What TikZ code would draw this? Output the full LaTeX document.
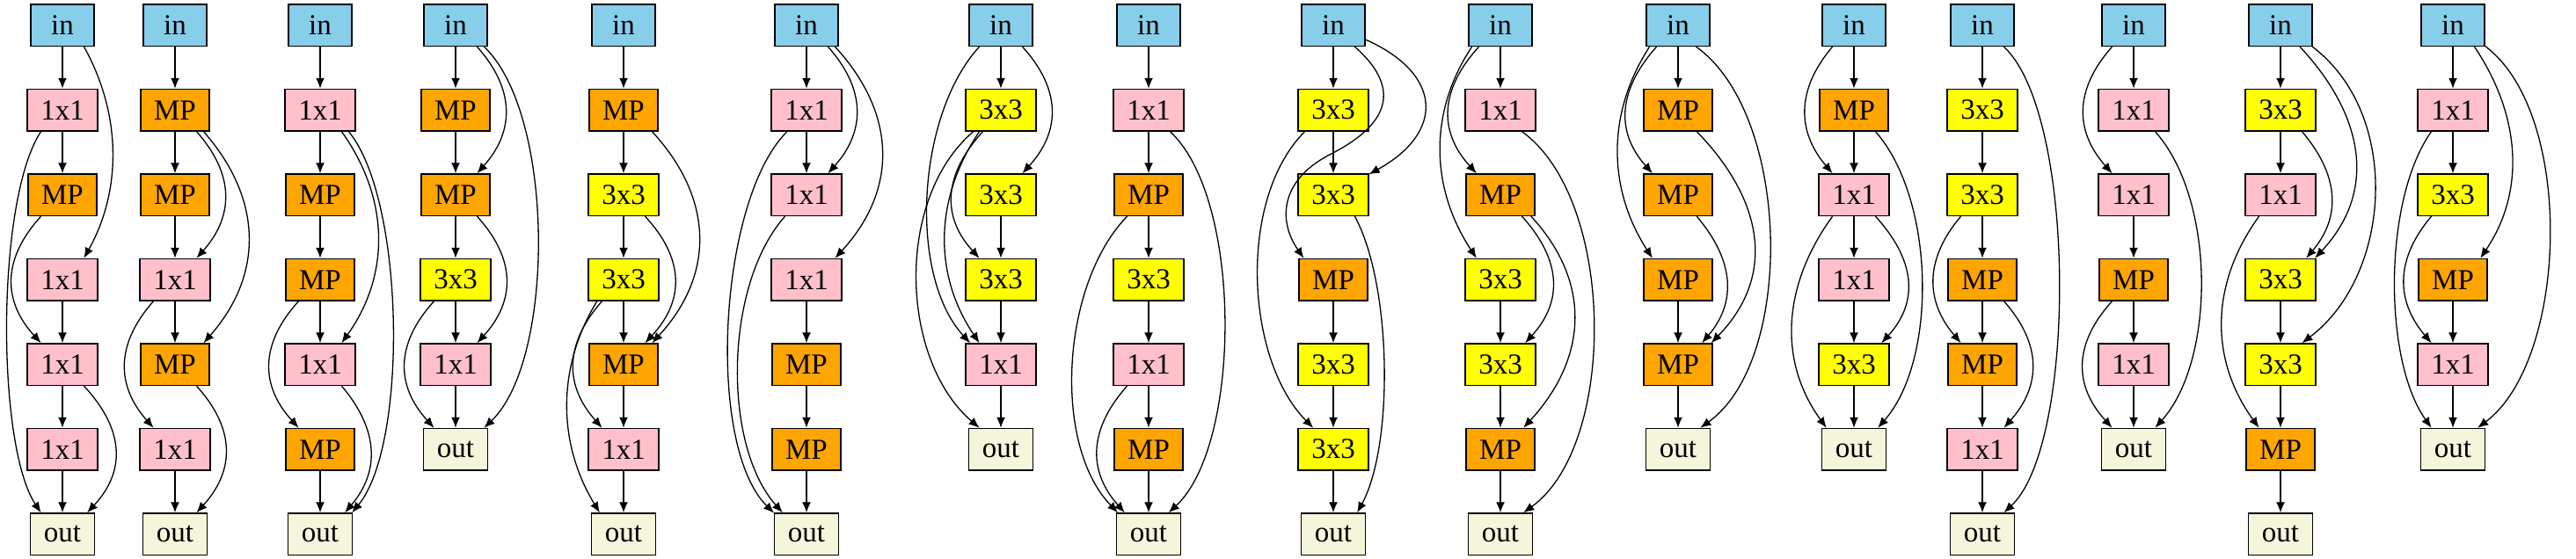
\documentclass[tikz,border=0pt]{standalone}
\usepackage{fontspec}
\setmainfont{Liberation Serif}
\usetikzlibrary{arrows.meta}
\definecolor{colIn}{HTML}{87CEEB}
\definecolor{colOne}{HTML}{FFC0CB}
\definecolor{colPool}{HTML}{FFA500}
\definecolor{colThree}{HTML}{FFFF00}
\definecolor{colOut}{HTML}{F5F5DC}
\tikzset{
  opbox/.style={draw,line width=0.65pt,minimum width=36pt,minimum height=23.8pt,inner xsep=7.6pt,inner ysep=0pt,font=\fontsize{16.5}{19}\selectfont},
  inbox/.style={opbox,fill=colIn},
  onebox/.style={opbox,fill=colOne},
  poolbox/.style={opbox,fill=colPool},
  threebox/.style={opbox,fill=colThree},
  outbox/.style={opbox,fill=colOut},
  link/.style={line width=0.65pt,-{Latex[length=6pt,width=5pt]}}
}
\begin{document}
\begin{tikzpicture}[x=0.5pt,y=-48.25pt]
\useasboundingbox (0,-0.2974) rectangle (2929,6.283);

\node (a0) at (71,0) [inbox] {in}; \node (a1) at (71,1) [onebox] {1x1}; \node (a2) at (71,2) [poolbox] {MP}; \node (a3) at (71,3) [onebox] {1x1}; \node (a4) at (71,4) [onebox] {1x1}; \node (a5) at (71,5) [onebox] {1x1}; \node (a6) at (71,6) [outbox] {out};
\draw[link] (a0) -- (a1); \draw[link] (a1) -- (a2); \draw[link] (a3) -- (a4); \draw[link] (a4) -- (a5); \draw[link] (a5) -- (a6);
\draw[link] (a0.-45) .. controls +(43,0.8) and +(43,-0.8) .. (a3.45); \draw[link] (a1.-135) .. controls +(-51,0.8) and +(-51,-0.8) .. (a6.135);
\draw[link] (a2.-135) .. controls +(-44,0.5) and +(-44,-0.5) .. (a4.135); \draw[link] (a4.-45) .. controls +(45,0.5) and +(45,-0.5) .. (a6.41);

\node (b0) at (199,0) [inbox] {in}; \node (b1) at (199,1) [poolbox] {MP}; \node (b2) at (199,2) [poolbox] {MP}; \node (b3) at (199,3) [onebox] {1x1}; \node (b4) at (199,4) [poolbox] {MP}; \node (b5) at (199,5) [onebox] {1x1}; \node (b6) at (199,6) [outbox] {out};
\draw[link] (b0) -- (b1); \draw[link] (b1) -- (b2); \draw[link] (b2) -- (b3); \draw[link] (b3) -- (b4); \draw[link] (b5) -- (b6);
\draw[link] (b1.-45) .. controls +(43,0.5) and +(43,-0.5) .. (b3.45); \draw[link] (b1.-37) .. controls +(68,0.8) and +(68,-0.8) .. (b4.37);
\draw[link] (b3.-135) .. controls +(-43,0.5) and +(-43,-0.5) .. (b5.135); \draw[link] (b4.-45) .. controls +(44,0.5) and +(44,-0.5) .. (b6.45);

\node (c0) at (364,0) [inbox] {in}; \node (c1) at (364,1) [onebox] {1x1}; \node (c2) at (364,2) [poolbox] {MP}; \node (c3) at (364,3) [poolbox] {MP}; \node (c4) at (364,4) [onebox] {1x1}; \node (c5) at (364,5) [poolbox] {MP}; \node (c6) at (364,6) [outbox] {out};
\draw[link] (c0) -- (c1); \draw[link] (c1) -- (c2); \draw[link] (c2) -- (c3); \draw[link] (c3) -- (c4); \draw[link] (c5) -- (c6);
\draw[link] (c1.-45) .. controls +(55,0.8) and +(55,-0.8) .. (c4.45); \draw[link] (c1.-37) .. controls +(64,0.8) and +(64,-0.8) .. (c6.34);
\draw[link] (c3.-135) .. controls +(-44,0.5) and +(-44,-0.5) .. (c5.135); \draw[link] (c4.-45) .. controls +(41,0.5) and +(41,-0.5) .. (c6.41);

\node (d0) at (518,0) [inbox] {in}; \node (d1) at (518,1) [poolbox] {MP}; \node (d2) at (518,2) [poolbox] {MP}; \node (d3) at (518,3) [threebox] {3x3}; \node (d4) at (518,4) [onebox] {1x1}; \node (d5) at (518,5) [outbox] {out};
\draw[link] (d0) -- (d1); \draw[link] (d1) -- (d2); \draw[link] (d2) -- (d3); \draw[link] (d3) -- (d4); \draw[link] (d4) -- (d5);
\draw[link] (d0.-45) .. controls +(43,0.5) and +(43,-0.5) .. (d2.45); \draw[link] (d0.-37) .. controls +(81,0.8) and +(81,-0.8) .. (d5.37);
\draw[link] (d2.-45) .. controls +(44,0.5) and +(44,-0.5) .. (d4.45); \draw[link] (d3.-135) .. controls +(-44,0.5) and +(-44,-0.5) .. (d5.135);

\node (e0) at (709,0) [inbox] {in}; \node (e1) at (709,1) [poolbox] {MP}; \node (e2) at (709,2) [threebox] {3x3}; \node (e3) at (709,3) [threebox] {3x3}; \node (e4) at (709,4) [poolbox] {MP}; \node (e5) at (709,5) [onebox] {1x1}; \node (e6) at (709,6) [outbox] {out};
\draw[link] (e0) -- (e1); \draw[link] (e1) -- (e2); \draw[link] (e2) -- (e3); \draw[link] (e3) -- (e4); \draw[link] (e4) -- (e5); \draw[link] (e5) -- (e6);
\draw[link] (e1.-37) .. controls +(71,0.8) and +(71,-0.8) .. (e4.37); \draw[link] (e2.-45) .. controls +(45,0.5) and +(45,-0.5) .. (e4.45);
\draw[link] (e3.-135) .. controls +(-43,0.5) and +(-43,-0.5) .. (e5.135); \draw[link] (e3.-141) .. controls +(-47,0.8) and +(-47,-0.8) .. (e6.138);

\node (f0) at (917,0) [inbox] {in}; \node (f1) at (917,1) [onebox] {1x1}; \node (f2) at (917,2) [onebox] {1x1}; \node (f3) at (917,3) [onebox] {1x1}; \node (f4) at (917,4) [poolbox] {MP}; \node (f5) at (917,5) [poolbox] {MP}; \node (f6) at (917,6) [outbox] {out};
\draw[link] (f0) -- (f1); \draw[link] (f1) -- (f2); \draw[link] (f3) -- (f4); \draw[link] (f4) -- (f5); \draw[link] (f5) -- (f6);
\draw[link] (f0.-45) .. controls +(43,0.5) and +(43,-0.5) .. (f2.45); \draw[link] (f0.-37) .. controls +(71,0.8) and +(71,-0.8) .. (f3.37);
\draw[link] (f1.-132) .. controls +(-78,0.8) and +(-78,-0.8) .. (f6.147); \draw[link] (f2.-135) .. controls +(-69,0.8) and +(-69,-0.8) .. (f6.138);

\node (g0) at (1138,0) [inbox] {in}; \node (g1) at (1138,1) [threebox] {3x3}; \node (g2) at (1138,2) [threebox] {3x3}; \node (g3) at (1138,3) [threebox] {3x3}; \node (g4) at (1138,4) [onebox] {1x1}; \node (g5) at (1138,5) [outbox] {out};
\draw[link] (g0) -- (g1); \draw[link] (g2) -- (g3); \draw[link] (g3) -- (g4); \draw[link] (g4) -- (g5);
\draw[link] (g0.-45) .. controls +(44,0.5) and +(44,-0.5) .. (g2.45); \draw[link] (g0.-135) .. controls +(-71,0.8) and +(-71,-0.8) .. (g4.145);
\draw[link] (g1.-130) .. controls +(-44,0.5) and +(-44,-0.5) .. (g3.135); \draw[link] (g1.-135) .. controls +(-52,0.8) and +(-52,-0.8) .. (g4.135);
\draw[link] (g1.-142) .. controls +(-90,0.8) and +(-90,-0.8) .. (g5.135);

\node (h0) at (1306,0) [inbox] {in}; \node (h1) at (1306,1) [onebox] {1x1}; \node (h2) at (1306,2) [poolbox] {MP}; \node (h3) at (1306,3) [threebox] {3x3}; \node (h4) at (1306,4) [onebox] {1x1}; \node (h5) at (1306,5) [poolbox] {MP}; \node (h6) at (1306,6) [outbox] {out};
\draw[link] (h0) -- (h1); \draw[link] (h1) -- (h2); \draw[link] (h2) -- (h3); \draw[link] (h3) -- (h4); \draw[link] (h4) -- (h5); \draw[link] (h5) -- (h6);
\draw[link] (h1.-45) .. controls +(83,0.8) and +(83,-0.8) .. (h6.47); \draw[link] (h2.-135) .. controls +(-75,0.8) and +(-75,-0.8) .. (h6.145);
\draw[link] (h4.-135) .. controls +(-43,0.5) and +(-43,-0.5) .. (h6.138);

\node (i0) at (1516,0) [inbox] {in}; \node (i1) at (1516,1) [threebox] {3x3}; \node (i2) at (1516,2) [threebox] {3x3}; \node (i3) at (1516,3) [poolbox] {MP}; \node (i4) at (1516,4) [threebox] {3x3}; \node (i5) at (1516,5) [threebox] {3x3}; \node (i6) at (1516,6) [outbox] {out};
\coordinate (ix) at (1513,1.52);
\draw[link] (i0) -- (i1); \draw[link] (i1) -- (i2); \draw[link] (i3) -- (i4); \draw[link] (i4) -- (i5); \draw[link] (i5) -- (i6);
\draw[link] (i0.-24) .. controls +(87,0.4) and +(87,-0.5) .. (i2.30); \draw[link] (i0.-45) .. controls +(60,0.55) and +(57,-0.3) .. (ix) .. controls +(-57,0.3) and +(-30,-0.45) .. (i3.144);
\draw[link] (i1.-143) .. controls +(-77,0.8) and +(-77,-0.8) .. (i5.133); \draw[link] (i2.-45) .. controls +(42,0.8) and +(42,-0.8) .. (i6.42);

\node (j0) at (1706,0) [inbox] {in}; \node (j1) at (1706,1) [onebox] {1x1}; \node (j2) at (1706,2) [poolbox] {MP}; \node (j3) at (1706,3) [threebox] {3x3}; \node (j4) at (1706,4) [threebox] {3x3}; \node (j5) at (1706,5) [poolbox] {MP}; \node (j6) at (1706,6) [outbox] {out};
\draw[link] (j0) -- (j1); \draw[link] (j3) -- (j4); \draw[link] (j4) -- (j5); \draw[link] (j5) -- (j6);
\draw[link] (j0.-135) .. controls +(-44,0.5) and +(-44,-0.5) .. (j2.138); \draw[link] (j0.-143) .. controls +(-51,0.8) and +(-51,-0.8) .. (j3.138);
\draw[link] (j1.-45) .. controls +(107,0.8) and +(107,-0.8) .. (j6.43); \draw[link] (j2.-45) .. controls +(44,0.5) and +(44,-0.5) .. (j4.41);
\draw[link] (j2.-35) .. controls +(71,0.8) and +(71,-0.8) .. (j5.43);

\node (k0) at (1908,0) [inbox] {in}; \node (k1) at (1908,1) [poolbox] {MP}; \node (k2) at (1908,2) [poolbox] {MP}; \node (k3) at (1908,3) [poolbox] {MP}; \node (k4) at (1908,4) [poolbox] {MP}; \node (k5) at (1908,5) [outbox] {out};
\draw[link] (k0) -- (k1); \draw[link] (k3) -- (k4); \draw[link] (k4) -- (k5);
\draw[link] (k0.-135) .. controls +(-43,0.5) and +(-43,-0.5) .. (k2.140); \draw[link] (k0.-143) .. controls +(-50,0.8) and +(-50,-0.8) .. (k3.140);
\draw[link] (k0.-50) .. controls +(108,0.8) and +(108,-0.8) .. (k5.44); \draw[link] (k1.-49) .. controls +(75,0.8) and +(75,-0.8) .. (k4.33);
\draw[link] (k2.-49) .. controls +(41,0.5) and +(41,-0.5) .. (k4.42);

\node (l0) at (2108,0) [inbox] {in}; \node (l1) at (2108,1) [poolbox] {MP}; \node (l2) at (2108,2) [onebox] {1x1}; \node (l3) at (2108,3) [onebox] {1x1}; \node (l4) at (2108,4) [threebox] {3x3}; \node (l5) at (2108,5) [outbox] {out};
\draw[link] (l0) -- (l1); \draw[link] (l1) -- (l2); \draw[link] (l2) -- (l3); \draw[link] (l3) -- (l4); \draw[link] (l4) -- (l5);
\draw[link] (l0.-135) .. controls +(-41,0.5) and +(-41,-0.5) .. (l2.135); \draw[link] (l1.-45) .. controls +(68,0.8) and +(68,-0.8) .. (l5.42);
\draw[link] (l2.-45) .. controls +(44,0.5) and +(44,-0.5) .. (l4.38); \draw[link] (l2.-135) .. controls +(-56,0.8) and +(-56,-0.8) .. (l5.142);

\node (m0) at (2254,0) [inbox] {in}; \node (m1) at (2254,1) [threebox] {3x3}; \node (m2) at (2254,2) [threebox] {3x3}; \node (m3) at (2254,3) [poolbox] {MP}; \node (m4) at (2254,4) [poolbox] {MP}; \node (m5) at (2254,5) [onebox] {1x1}; \node (m6) at (2254,6) [outbox] {out};
\draw[link] (m0) -- (m1); \draw[link] (m1) -- (m2); \draw[link] (m2) -- (m3); \draw[link] (m3) -- (m4); \draw[link] (m4) -- (m5); \draw[link] (m5) -- (m6);
\draw[link] (m0.-45) .. controls +(83,0.8) and +(83,-0.8) .. (m6.45); \draw[link] (m2.-135) .. controls +(-41,0.5) and +(-41,-0.5) .. (m4.135);
\draw[link] (m3.-45) .. controls +(43,0.5) and +(43,-0.5) .. (m5.45);

\node (n0) at (2426,0) [inbox] {in}; \node (n1) at (2426,1) [onebox] {1x1}; \node (n2) at (2426,2) [onebox] {1x1}; \node (n3) at (2426,3) [poolbox] {MP}; \node (n4) at (2426,4) [onebox] {1x1}; \node (n5) at (2426,5) [outbox] {out};
\draw[link] (n0) -- (n1); \draw[link] (n2) -- (n3); \draw[link] (n3) -- (n4); \draw[link] (n4) -- (n5);
\draw[link] (n0.-135) .. controls +(-43,0.5) and +(-43,-0.5) .. (n2.135); \draw[link] (n1.-45) .. controls +(69,0.8) and +(69,-0.8) .. (n5.45);
\draw[link] (n3.-135) .. controls +(-44,0.5) and +(-44,-0.5) .. (n5.135);

\node (o0) at (2593,0) [inbox] {in}; \node (o1) at (2593,1) [threebox] {3x3}; \node (o2) at (2593,2) [onebox] {1x1}; \node (o3) at (2593,3) [threebox] {3x3}; \node (o4) at (2593,4) [threebox] {3x3}; \node (o5) at (2593,5) [poolbox] {MP}; \node (o6) at (2593,6) [outbox] {out};
\draw[link] (o0) -- (o1); \draw[link] (o1) -- (o2); \draw[link] (o3) -- (o4); \draw[link] (o4) -- (o5); \draw[link] (o5) -- (o6);
\draw[link] (o0.-48) .. controls +(72,0.8) and +(72,-0.8) .. (o3.32); \draw[link] (o0.-34) .. controls +(102,0.8) and +(102,-0.8) .. (o4.45);
\draw[link] (o1.-45) .. controls +(41,0.5) and +(41,-0.5) .. (o3.40); \draw[link] (o2.-135) .. controls +(-56,0.8) and +(-56,-0.8) .. (o5.135);

\node (p0) at (2789,0) [inbox] {in}; \node (p1) at (2789,1) [onebox] {1x1}; \node (p2) at (2789,2) [threebox] {3x3}; \node (p3) at (2789,3) [poolbox] {MP}; \node (p4) at (2789,4) [onebox] {1x1}; \node (p5) at (2789,5) [outbox] {out};
\draw[link] (p0) -- (p1); \draw[link] (p1) -- (p2); \draw[link] (p3) -- (p4); \draw[link] (p4) -- (p5);
\draw[link] (p0.-45) .. controls +(52,0.8) and +(52,-0.8) .. (p3.38); \draw[link] (p0.-33) .. controls +(103,0.8) and +(103,-0.8) .. (p5.41);
\draw[link] (p1.-135) .. controls +(-55,0.8) and +(-55,-0.8) .. (p5.135); \draw[link] (p2.-135) .. controls +(-41,0.5) and +(-41,-0.5) .. (p4.135);

\end{tikzpicture}
\end{document}
